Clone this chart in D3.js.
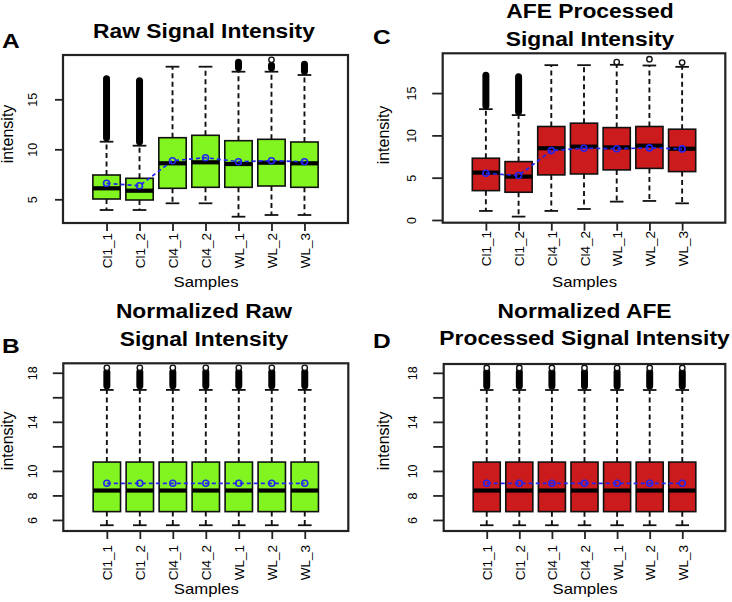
<!DOCTYPE html>
<html><head><meta charset="utf-8">
<script src="https://cdn.jsdelivr.net/npm/d3@7"></script>
<style>
body{margin:0;background:#fff;}
svg{display:block;font-family:"Liberation Sans",Arial,Helvetica,sans-serif;}
</style>
</head><body>
<svg id="chart" width="732" height="602"></svg>
<script>
// ---------------- DATA ----------------
const samples = ["Cl1_1", "Cl1_2", "Cl4_1", "Cl4_2", "WL_1", "WL_2", "WL_3"];

// Panel A: Raw Signal Intensity
const rawLow      = [3.93, 3.93, 4.60, 4.60, 3.26, 3.43, 3.43];
const rawQ1       = [5.03, 4.93, 6.10, 6.20, 6.20, 6.33, 6.20];
const rawMedian   = [6.10, 5.86, 8.60, 8.70, 8.53, 8.66, 8.60];
const rawQ3       = [7.43, 7.10, 11.16, 11.40, 10.86, 11.00, 10.73];
const rawHigh     = [10.76, 10.36, 18.26, 18.26, 17.76, 17.76, 17.43];
const rawMean     = [6.60, 6.36, 8.86, 9.16, 8.76, 8.86, 8.76];
const rawOutFrom  = [10.80, 10.40, null, null, 17.80, 17.80, 17.45];
const rawOutTo    = [17.10, 16.90, null, null, 18.75, 18.45, 18.55];
const rawOutPoint = [null, null, null, null, null, 18.95, null];

// Panel C: AFE Processed Signal Intensity
const afeLow      = [1.07, 0.40, 1.07, 1.30, 2.17, 2.25, 1.97];
const afeQ1       = [3.47, 3.28, 5.33, 5.44, 5.92, 6.10, 5.72];
const afeMedian   = [5.60, 5.13, 8.48, 8.67, 8.58, 8.78, 8.42];
const afeQ3       = [7.30, 6.90, 11.05, 11.44, 10.92, 11.05, 10.73];
const afeHigh     = [13.10, 12.40, 18.30, 18.30, 18.34, 18.26, 18.10];
const afeMean     = [5.52, 5.25, 8.20, 8.48, 8.42, 8.52, 8.40];
const afeOutFrom  = [13.10, 12.40, null, null, null, null, null];
const afeOutTo    = [17.16, 17.00, null, null, null, null, null];
const afeOutPoint = [null, null, null, null, 18.66, 19.00, 18.60];

// Panel B: Normalized Raw Signal Intensity
const normRawLow      = [5.57, 5.57, 5.57, 5.57, 5.57, 5.57, 5.57];
const normRawQ1       = [6.68, 6.68, 6.68, 6.68, 6.68, 6.68, 6.68];
const normRawMedian   = [8.40, 8.40, 8.40, 8.40, 8.40, 8.40, 8.40];
const normRawQ3       = [10.72, 10.72, 10.72, 10.72, 10.72, 10.72, 10.72];
const normRawHigh     = [16.60, 16.60, 16.60, 16.60, 16.60, 16.60, 16.60];
const normRawMean     = [8.99, 8.99, 8.99, 8.99, 8.99, 8.99, 8.99];
const normRawOutFrom  = [16.65, 16.65, 16.65, 16.65, 16.65, 16.65, 16.65];
const normRawOutTo    = [18.10, 18.10, 18.10, 18.10, 18.10, 18.10, 18.10];
const normRawOutPoint = [18.40, 18.40, 18.40, 18.40, 18.40, 18.40, 18.40];

// Panel D: Normalized AFE Processed Signal Intensity
const normAfeLow      = [5.57, 5.57, 5.57, 5.57, 5.57, 5.57, 5.57];
const normAfeQ1       = [6.68, 6.68, 6.68, 6.68, 6.68, 6.68, 6.68];
const normAfeMedian   = [8.40, 8.40, 8.40, 8.40, 8.40, 8.40, 8.40];
const normAfeQ3       = [10.72, 10.72, 10.72, 10.72, 10.72, 10.72, 10.72];
const normAfeHigh     = [16.60, 16.60, 16.60, 16.60, 16.60, 16.60, 16.60];
const normAfeMean     = [8.99, 8.99, 8.99, 8.99, 8.99, 8.99, 8.99];
const normAfeOutFrom  = [16.65, 16.65, 16.65, 16.65, 16.65, 16.65, 16.65];
const normAfeOutTo    = [18.10, 18.10, 18.10, 18.10, 18.10, 18.10, 18.10];
const normAfeOutPoint = [18.40, 18.40, 18.40, 18.40, 18.40, 18.40, 18.40];

// Axis ticks
const ticksA = [5, 10, 15];
const ticksC = [0, 5, 10, 15];
const ticksNorm = [6, 8, 10, 12, 14, 16, 18];
const labelsNorm = [6, 8, 10, 14, 18];

const yLabel = "intensity";
const xLabel = "Samples";

// ---------------- LAYOUT ----------------
const GREEN = "#82F420";
const RED = "#CC1B1D";

const panels = [
  { letter: "A", letterPos: [2, 48], titleX: 204, title: [["Raw Signal Intensity", 38.3]],
    fill: GREEN, frame: { l: 63, r: 348, t: 55, b: 223 }, yDomain: [2.63, 19.43],
    ticks: ticksA, labels: ticksA, tickLen: 8, xLabY: 233, yLabX: 12.6, yLabY: 134, sampY: 286.5,
    low: rawLow, q1: rawQ1, med: rawMedian, q3: rawQ3, high: rawHigh, mean: rawMean,
    outFrom: rawOutFrom, outTo: rawOutTo, outPt: rawOutPoint },
  { letter: "C", letterPos: [373, 43.5], titleX: 590, title: [["AFE Processed", 17.5], ["Signal Intensity", 45.7]],
    fill: RED, frame: { l: 442.7, r: 725.3, t: 53.3, b: 222.7 }, yDomain: [-0.32, 19.7],
    ticks: ticksC, labels: ticksC, tickLen: 10.5, xLabY: 231, yLabX: 388.6, yLabY: 135, sampY: 287,
    low: afeLow, q1: afeQ1, med: afeMedian, q3: afeQ3, high: afeHigh, mean: afeMean,
    outFrom: afeOutFrom, outTo: afeOutTo, outPt: afeOutPoint },
  { letter: "B", letterPos: [2, 353.3], titleX: 204, title: [["Normalized Raw", 318.3], ["Signal Intensity", 346]],
    fill: GREEN, frame: { l: 63.3, r: 348.3, t: 363.3, b: 531 }, yDomain: [5.1, 18.77],
    ticks: ticksNorm, labels: labelsNorm, tickLen: 10.5, xLabY: 545, yLabX: 12.6, yLabY: 440.8, sampY: 593.5,
    low: normRawLow, q1: normRawQ1, med: normRawMedian, q3: normRawQ3, high: normRawHigh, mean: normRawMean,
    outFrom: normRawOutFrom, outTo: normRawOutTo, outPt: normRawOutPoint },
  { letter: "D", letterPos: [373, 348.3], titleX: 584.5, title: [["Normalized AFE", 318.3], ["Processed Signal Intensity", 345]],
    fill: RED, frame: { l: 443.7, r: 725.3, t: 364, b: 531 }, yDomain: [5.1, 18.72],
    ticks: ticksNorm, labels: labelsNorm, tickLen: 10.5, xLabY: 545, yLabX: 388.6, yLabY: 440.8, sampY: 593.5,
    low: normAfeLow, q1: normAfeQ1, med: normAfeMedian, q3: normAfeQ3, high: normAfeHigh, mean: normAfeMean,
    outFrom: normAfeOutFrom, outTo: normAfeOutTo, outPt: normAfeOutPoint }
];

const svg = d3.select("#chart");
svg.append("rect").attr("width", 732).attr("height", 602).attr("fill", "#fff");

const SX = 1.17; // horizontal glyph stretch of the original figure

function drawPanel(p) {
  const g = svg.append("g");
  const f = p.frame;
  const x = d3.scaleLinear().domain([-0.32, 8.32]).range([f.l, f.r]);
  const y = d3.scaleLinear().domain(p.yDomain).range([f.b, f.t]);
  const unit = x(1) - x(0);
  const boxW = 0.83 * unit;
  const capW = boxW / 2;
  const idx = d3.range(samples.length);
  const cx = i => x(i + 1);

  // whiskers (dashed)
  const wh = g.append("g").attr("stroke", "#111").attr("stroke-width", 1.9).attr("stroke-dasharray", "5,3.5");
  wh.selectAll(".wu").data(idx).join("line")
    .attr("x1", cx).attr("x2", cx).attr("y1", i => y(p.q3[i])).attr("y2", i => y(p.high[i]));
  wh.selectAll(".wl").data(idx).join("line").attr("class", "wl")
    .attr("x1", cx).attr("x2", cx).attr("y1", i => y(p.q1[i])).attr("y2", i => y(p.low[i]));

  // caps
  const caps = g.append("g").attr("stroke", "#111").attr("stroke-width", 1.8);
  caps.selectAll(".ch").data(idx).join("line").attr("class", "ch")
    .attr("x1", i => cx(i) - capW / 2).attr("x2", i => cx(i) + capW / 2)
    .attr("y1", i => y(p.high[i])).attr("y2", i => y(p.high[i]));
  caps.selectAll(".cl").data(idx).join("line").attr("class", "cl")
    .attr("x1", i => cx(i) - capW / 2).attr("x2", i => cx(i) + capW / 2)
    .attr("y1", i => y(p.low[i])).attr("y2", i => y(p.low[i]));

  // boxes
  g.append("g").selectAll("rect").data(idx).join("rect")
    .attr("x", i => cx(i) - boxW / 2).attr("width", boxW)
    .attr("y", i => y(p.q3[i])).attr("height", i => y(p.q1[i]) - y(p.q3[i]))
    .attr("fill", p.fill).attr("stroke", "#111").attr("stroke-width", 1.6);

  // medians
  g.append("g").selectAll("line").data(idx).join("line")
    .attr("x1", i => cx(i) - boxW / 2).attr("x2", i => cx(i) + boxW / 2)
    .attr("y1", i => y(p.med[i])).attr("y2", i => y(p.med[i]))
    .attr("stroke", "#000").attr("stroke-width", 4.2);

  // dense outlier columns
  const oi = idx.filter(i => p.outFrom[i] != null);
  g.append("g").selectAll("rect").data(oi).join("rect")
    .attr("x", i => cx(i) - 3.5).attr("width", 7)
    .attr("y", i => y(p.outTo[i]) - 3).attr("height", i => y(p.outFrom[i]) - y(p.outTo[i]) + 3)
    .attr("rx", 3.5).attr("fill", "#000");

  // isolated outliers
  const pi = idx.filter(i => p.outPt[i] != null);
  g.append("g").selectAll("circle").data(pi).join("circle")
    .attr("cx", cx).attr("cy", i => y(p.outPt[i])).attr("r", 2.7)
    .attr("fill", "#fff").attr("stroke", "#111").attr("stroke-width", 1.4);

  // mean line + markers
  const line = d3.line().x((d, i) => cx(i)).y(d => y(d));
  g.append("path").attr("d", line(p.mean)).attr("fill", "none")
    .attr("stroke", "#2424F0").attr("stroke-width", 1.7).attr("stroke-dasharray", "4,3");
  g.append("g").selectAll("circle").data(idx).join("circle")
    .attr("cx", cx).attr("cy", i => y(p.mean[i])).attr("r", 3)
    .attr("fill", "none").attr("stroke", "#2424F0").attr("stroke-width", 1.6);

  // y axis
  const ya = g.append("g").attr("transform", `translate(${f.l},0)`)
    .call(d3.axisLeft(y).tickValues(p.ticks).tickSize(p.tickLen).tickPadding(0)
      .tickFormat(d => p.labels.includes(d) ? String(d) : ""));
  ya.select(".domain").remove();
  ya.selectAll(".tick line").attr("stroke", "#222").attr("stroke-width", 1.8);
  ya.selectAll(".tick text")
    .attr("x", null).attr("dy", null)
    .attr("transform", "translate(-26.5,0) rotate(-90)")
    .attr("text-anchor", "middle")
    .attr("font-size", 12.5).attr("fill", "#000")
    .style("font-family", '"Liberation Sans",Arial,sans-serif');

  // x axis
  const xa = g.append("g").attr("transform", `translate(0,${f.b})`)
    .call(d3.axisBottom(x).tickValues(idx.map(i => i + 1)).tickSize(8)
      .tickFormat(d => samples[d - 1]));
  xa.select(".domain").remove();
  xa.selectAll(".tick line").attr("stroke", "#222").attr("stroke-width", 1.8);
  xa.selectAll(".tick text")
    .attr("y", null).attr("dy", null)
    .attr("transform", `translate(5,${p.xLabY - f.b}) rotate(-90)`)
    .attr("text-anchor", "end")
    .attr("font-size", 13.5).attr("fill", "#000")
    .style("font-family", '"Liberation Sans",Arial,sans-serif');

  // frame
  g.append("rect").attr("x", f.l).attr("y", f.t).attr("width", f.r - f.l).attr("height", f.b - f.t)
    .attr("fill", "none").attr("stroke", "#222").attr("stroke-width", 2.2);

  // axis titles
  g.append("text").attr("transform", `translate(${p.yLabX},${p.yLabY}) rotate(-90)`)
    .attr("text-anchor", "middle").attr("font-size", 16).attr("fill", "#000").text(yLabel);
  g.append("text").attr("transform", `translate(${(f.l + f.r) / 2 + 0.5},${p.sampY}) scale(${SX},1)`)
    .attr("text-anchor", "middle").attr("font-size", 14.3).attr("fill", "#000").text(xLabel);

  // plot title
  p.title.forEach(([t, by]) => {
    g.append("text").attr("transform", `translate(${p.titleX},${by}) scale(${SX},1)`)
      .attr("text-anchor", "middle").attr("font-size", 19.5).attr("font-weight", "bold")
      .attr("fill", "#000").text(t);
  });

  // panel letter
  g.append("text").attr("transform", `translate(${p.letterPos[0]},${p.letterPos[1]}) scale(${SX},1)`)
    .attr("font-size", 21).attr("font-weight", "bold").attr("fill", "#000").text(p.letter);
}

panels.forEach(drawPanel);
</script>
</body></html>
